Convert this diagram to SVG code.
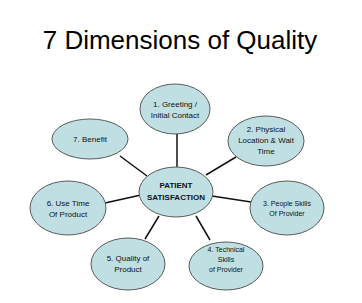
<svg xmlns="http://www.w3.org/2000/svg" width="362" height="303" viewBox="0 0 362 303">
<style>
.n{fill:#bfdfe2;stroke:#5a5a5a;stroke-width:1}
.t{font-family:"Liberation Sans",Arial,sans-serif;font-size:8px;fill:#111;text-anchor:middle}
.s{font-size:7px}
.b{font-weight:bold}
.c line{stroke:#111;stroke-width:1.5}
</style>
<rect width="362" height="303" fill="#fff"/>
<text x="180" y="49" font-family="'Liberation Sans',Arial,sans-serif" font-size="26" text-anchor="middle" fill="#000">7 Dimensions of Quality</text>
<g class="c" id="connectors">
<line x1="177" y1="134" x2="177" y2="168"/>
<line x1="120" y1="156" x2="147" y2="176"/>
<line x1="236" y1="157" x2="206" y2="175"/>
<line x1="212" y1="196" x2="251" y2="202"/>
<line x1="105" y1="203" x2="141" y2="195"/>
<line x1="145" y1="239" x2="159" y2="216"/>
<line x1="210" y1="240" x2="196" y2="216"/>
</g>
<g id="center"><ellipse class="n" cx="176" cy="192" rx="37" ry="25"/>
<text class="t b" x="176" y="188">PATIENT</text><text class="t b" x="176" y="200">SATISFACTION</text></g>
<g id="n1"><ellipse class="n" cx="175" cy="109" rx="35" ry="25"/>
<text class="t" x="175" y="107">1. Greeting /</text><text class="t" x="175" y="118">Initial Contact</text></g>
<g id="n2"><ellipse class="n" cx="266" cy="141" rx="38" ry="25"/>
<text class="t" x="266" y="132">2. Physical</text><text class="t" x="266" y="142.5">Location &amp; Wait</text><text class="t" x="266" y="154">Time</text></g>
<g id="n3"><ellipse class="n" cx="287" cy="208" rx="37" ry="27"/>
<text class="t s" x="287" y="206">3. People Skills</text><text class="t s" x="287" y="215.5">Of Provider</text></g>
<g id="n4"><ellipse class="n" cx="226" cy="266" rx="37" ry="24"/>
<text class="t s" x="226" y="251.5">4. Technical</text><text class="t s" x="226" y="261.5">Skills</text><text class="t s" x="226" y="271.5">of Provider</text></g>
<g id="n5"><ellipse class="n" cx="128" cy="264" rx="37" ry="26"/>
<text class="t" x="128" y="261">5. Quality of</text><text class="t" x="128" y="272">Product</text></g>
<g id="n6"><ellipse class="n" cx="68" cy="208" rx="38" ry="27"/>
<text class="t" x="68" y="206">6. Use Time</text><text class="t" x="68" y="217">Of Product</text></g>
<g id="n7"><ellipse class="n" cx="90" cy="139" rx="38" ry="20"/>
<text class="t" x="90" y="142">7. Benefit</text></g>
</svg>
